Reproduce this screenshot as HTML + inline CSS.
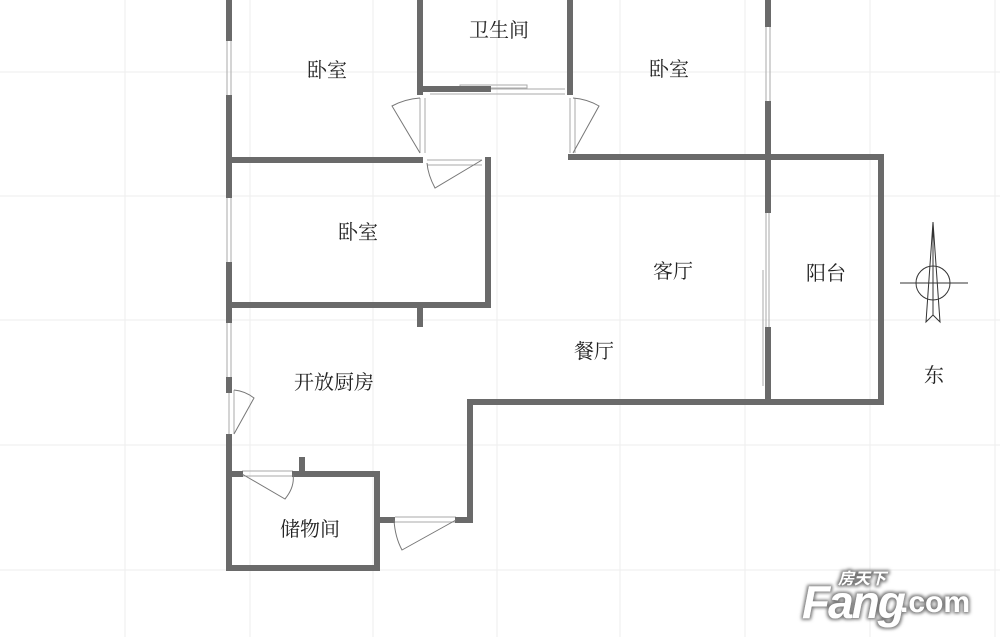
<!DOCTYPE html>
<html><head><meta charset="utf-8"><style>
html,body{margin:0;padding:0;background:#fff;width:1000px;height:637px;overflow:hidden}
text{font-family:"Liberation Serif","Noto Serif CJK SC","Noto Sans CJK SC",serif;font-size:20px;fill:#222}
</style></head><body>
<svg width="1000" height="637" viewBox="0 0 1000 637" xmlns="http://www.w3.org/2000/svg">
<defs><filter id="sh" x="-10%" y="-20%" width="120%" height="140%"><feMorphology in="SourceAlpha" operator="dilate" radius="1.5" result="d"/><feGaussianBlur in="d" stdDeviation="1.5" result="b"/><feFlood flood-color="#777"/><feComposite in2="b" operator="in" result="s"/><feMerge><feMergeNode in="s"/><feMergeNode in="SourceGraphic"/></feMerge></filter></defs>
<g stroke="#ededed" stroke-width="1">
<line x1="125" y1="0" x2="125" y2="637"/><line x1="250" y1="0" x2="250" y2="637"/><line x1="373" y1="0" x2="373" y2="637"/><line x1="497" y1="0" x2="497" y2="637"/><line x1="620" y1="0" x2="620" y2="637"/><line x1="745" y1="0" x2="745" y2="637"/><line x1="870" y1="0" x2="870" y2="637"/><line x1="995" y1="0" x2="995" y2="637"/>
<line x1="0" y1="72" x2="1000" y2="72"/><line x1="0" y1="196" x2="1000" y2="196"/><line x1="0" y1="320" x2="1000" y2="320"/><line x1="0" y1="445" x2="1000" y2="445"/><line x1="0" y1="570" x2="1000" y2="570"/>
</g>
<g stroke="#aaa" stroke-width="1" fill="none">
<rect x="227" y="38" width="4" height="60"/><rect x="227" y="195" width="4" height="70"/><rect x="227" y="320" width="4" height="60"/>
<rect x="766" y="24" width="4" height="80"/><rect x="766" y="210" width="3" height="120"/>
<line x1="763" y1="270" x2="763" y2="386"/>
<rect x="460" y="85" width="67" height="3"/>
<line x1="427" y1="160" x2="482" y2="160"/><line x1="427" y1="165" x2="482" y2="165"/>
<line x1="430" y1="89" x2="565" y2="89"/><line x1="430" y1="94" x2="565" y2="94"/>
<line x1="420" y1="98" x2="420" y2="153"/><line x1="425" y1="98" x2="425" y2="153"/>
<line x1="570" y1="98" x2="570" y2="153"/><line x1="575" y1="98" x2="575" y2="153"/>
<line x1="229" y1="390" x2="229" y2="434"/><line x1="234" y1="390" x2="234" y2="434"/>
<line x1="242" y1="471" x2="293" y2="471"/><line x1="242" y1="476" x2="293" y2="476"/>
<line x1="395" y1="517" x2="456" y2="517"/><line x1="395" y1="522" x2="456" y2="522"/>
</g>
<g stroke="#6a6a6a" stroke-width="6" fill="none" stroke-linecap="square">
<line x1="229" y1="0" x2="229" y2="38"/><line x1="229" y1="98" x2="229" y2="195"/><line x1="229" y1="265" x2="229" y2="320"/><line x1="229" y1="380" x2="229" y2="390"/><line x1="229" y1="437" x2="229" y2="568"/>
<line x1="229" y1="160" x2="420" y2="160"/>
<line x1="420" y1="0" x2="420" y2="92"/><line x1="420" y1="89" x2="488" y2="89"/>
<line x1="570" y1="0" x2="570" y2="92"/>
<line x1="488" y1="160" x2="488" y2="305"/><line x1="229" y1="305" x2="488" y2="305"/><line x1="420" y1="305" x2="420" y2="324"/>
<line x1="571" y1="157" x2="881" y2="157"/><line x1="881" y1="157" x2="881" y2="402"/><line x1="470" y1="402" x2="881" y2="402"/>
<line x1="768" y1="0" x2="768" y2="24"/><line x1="768" y1="104" x2="768" y2="210"/><line x1="768" y1="330" x2="768" y2="402"/>
<line x1="470" y1="402" x2="470" y2="520"/><line x1="458" y1="520" x2="470" y2="520"/>
<line x1="377" y1="520" x2="392" y2="520"/>
<line x1="377" y1="474" x2="377" y2="568"/><line x1="229" y1="568" x2="377" y2="568"/><line x1="295" y1="474" x2="377" y2="474"/><line x1="302" y1="460" x2="302" y2="474"/><line x1="229" y1="474" x2="240" y2="474"/>
</g>
<g stroke="#777" stroke-width="1" fill="none">
<path d="M420 153 L392 106 Q405 99 420 98"/>
<path d="M573 153 L599 106 Q587 99 573 98"/>
<path d="M482 160 L435 188 Q428 175 427 163"/>
<path d="M234 434 L254 398 Q245 391 234 390"/>
<path d="M242 474 L285 499 Q295 487 293 474"/>
<path d="M456 520 L402 550 Q395 537 394 520"/>
</g>
<g stroke="#333" stroke-width="1" fill="none">
<circle cx="933" cy="283" r="17"/><line x1="900" y1="283" x2="968" y2="283"/>
<path d="M933 222 L926 322 L933 315 L940 322 Z"/><line x1="933" y1="222" x2="933" y2="315"/>
</g>
<text x="327" y="77" text-anchor="middle">卧室</text>
<text x="499" y="37" text-anchor="middle">卫生间</text>
<text x="669" y="76" text-anchor="middle">卧室</text>
<text x="358" y="239" text-anchor="middle">卧室</text>
<text x="673" y="278" text-anchor="middle">客厅</text>
<text x="826" y="280" text-anchor="middle">阳台</text>
<text x="594" y="358" text-anchor="middle">餐厅</text>
<text x="334" y="389" text-anchor="middle">开放厨房</text>
<text x="310" y="536" text-anchor="middle">储物间</text>
<text x="934" y="382" text-anchor="middle">东</text>
<g filter="url(#sh)">
<text x="802" y="618" style="font-family:'Liberation Sans',sans-serif;font-weight:bold;font-style:italic;font-size:46px;fill:#fff;letter-spacing:-2px">Fang</text>
<text x="900" y="612" style="font-family:'Liberation Sans',sans-serif;font-weight:bold;font-size:30px;fill:#fff">.com</text>
<text x="838" y="584" style="font-family:'Noto Sans CJK SC',sans-serif;font-weight:bold;font-style:italic;font-size:16px;fill:#fff">房天下</text>
</g>
</svg>
</body></html>
